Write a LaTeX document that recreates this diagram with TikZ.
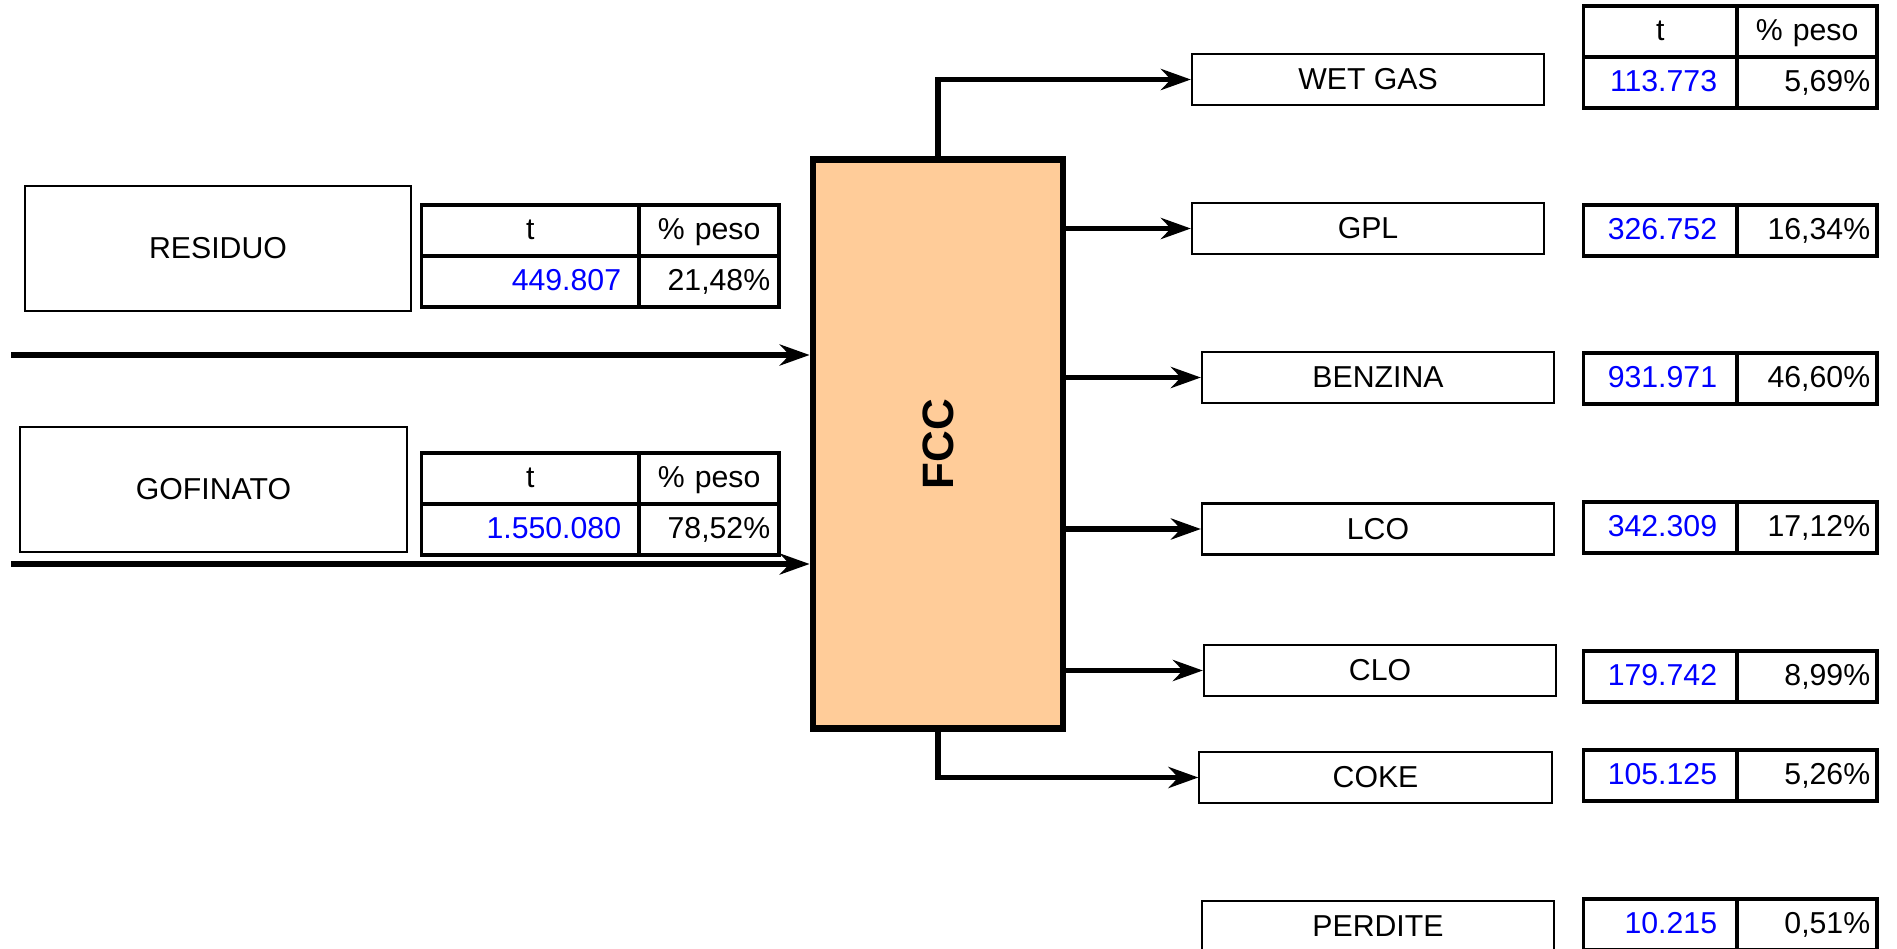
\documentclass[tikz,border=0pt]{standalone}
\usepackage{fontspec}
\setmainfont{Liberation Sans}
\usetikzlibrary{positioning, arrows.meta}

\definecolor{fccfill}{RGB}{255,204,153}

\tikzset{
    feed/.style={draw, line width=0.6pt, minimum width=3.86cm, minimum height=1.25cm},
    prod/.style={draw, line width=0.6pt, minimum width=3.52cm, minimum height=0.51cm},
    unit/.style={draw, fill=fccfill, line width=1.9pt, minimum width=2.5cm, minimum height=5.68cm},
    flow/.style={line width=1.7pt, -{Stealth[length=8.5pt, width=6pt, inset=2.8pt]}},
    cell/.style={draw, line width=1.1pt, outer sep=0pt, inner ysep=0pt, minimum height=0.51cm,
        text height=0.22cm, text depth=0.05cm},
    colA/.style={text width=1.815cm, inner xsep=0.18cm},
    colB/.style={text width=1.22cm, inner xsep=0.09cm},
    colC/.style={text width=1.135cm, inner xsep=0.2cm},
    colD/.style={text width=1.26cm, inner xsep=0.07cm},
    hdr/.style={cell, align=center},
    val/.style={cell, align=right, text=blue},
    pct/.style={cell, align=right}
}

\begin{document}
\begin{tikzpicture}[x=0.01cm, y=-0.01cm, font=\fontsize{8.6}{10}\selectfont]
    \clip (0,0) rectangle (1897,949);

    % reactor
    \node[unit] (fcc) at (938,444) {\rotatebox{90}{\fontsize{12.5}{14}\selectfont\bfseries FCC}};

    % feeds
    \node[feed] (residuo) at (218,248.5) {RESIDUO};
    \node[feed] (gofinato) at (213.5,489.5) {GOFINATO};
    \coordinate (resin) at (11,355);
    \coordinate (gofin) at (11,564);

    \node[hdr, colA, anchor=north west] (resT) at (421.5,205) {t};
    \node[hdr, colB, right=0pt of resT] (resP) {\% peso};
    \node[val, colA, below=0pt of resT] (resTv) {449.807};
    \node[pct, colB, below=0pt of resP] (resPv) {21,48\%};

    \node[hdr, colA, anchor=north west] (gofT) at (421.5,453) {t};
    \node[hdr, colB, right=0pt of gofT] (gofP) {\% peso};
    \node[val, colA, below=0pt of gofT] (gofTv) {1.550.080};
    \node[pct, colB, below=0pt of gofP] (gofPv) {78,52\%};

    % products
    \node[prod] (wetgas) at (1368,79.5) {WET GAS};
    \node[prod] (gpl) at (1368,228.5) {GPL};
    \node[prod] (benzina) at (1378,377.5) {BENZINA};
    \node[prod] (lco) at (1378,529) {LCO};
    \node[prod] (clo) at (1380,670.5) {CLO};
    \node[prod] (coke) at (1375.5,777.5) {COKE};
    \node[prod] (perdite) at (1378,926.5) {PERDITE};

    \node[hdr, colC, anchor=north west] (wgT) at (1583.5,6) {t};
    \node[hdr, colD, right=0pt of wgT] (wgP) {\% peso};
    \node[val, colC, below=0pt of wgT] (wgTv) {113.773};
    \node[pct, colD, below=0pt of wgP] (wgPv) {5,69\%};

    \node[val, colC, anchor=north west] (gplT) at (1583.5,205) {326.752};
    \node[pct, colD, right=0pt of gplT] (gplP) {16,34\%};
    \node[val, colC, anchor=north west] (benT) at (1583.5,353) {931.971};
    \node[pct, colD, right=0pt of benT] (benP) {46,60\%};
    \node[val, colC, anchor=north west] (lcoT) at (1583.5,502) {342.309};
    \node[pct, colD, right=0pt of lcoT] (lcoP) {17,12\%};
    \node[val, colC, anchor=north west] (cloT) at (1583.5,651) {179.742};
    \node[pct, colD, right=0pt of cloT] (cloP) {8,99\%};
    \node[val, colC, anchor=north west] (cokT) at (1583.5,750) {105.125};
    \node[pct, colD, right=0pt of cokT] (cokP) {5,26\%};
    \node[val, colC, anchor=north west] (perT) at (1583.5,899) {10.215};
    \node[pct, colD, right=0pt of perT] (perP) {0,51\%};

    % streams
    \draw[flow] (resin) -- (resin -| fcc.west);
    \draw[flow] (gofin) -- (gofin -| fcc.west);
    \draw[flow] (fcc.north) |- (wetgas.west);
    \draw[flow] (fcc.east |- gpl) -- (gpl.west);
    \draw[flow] (fcc.east |- benzina) -- (benzina.west);
    \draw[flow] (fcc.east |- lco) -- (lco.west);
    \draw[flow] (fcc.east |- clo) -- (clo.west);
    \draw[flow] (fcc.south) |- (coke.west);
\end{tikzpicture}
\end{document}
